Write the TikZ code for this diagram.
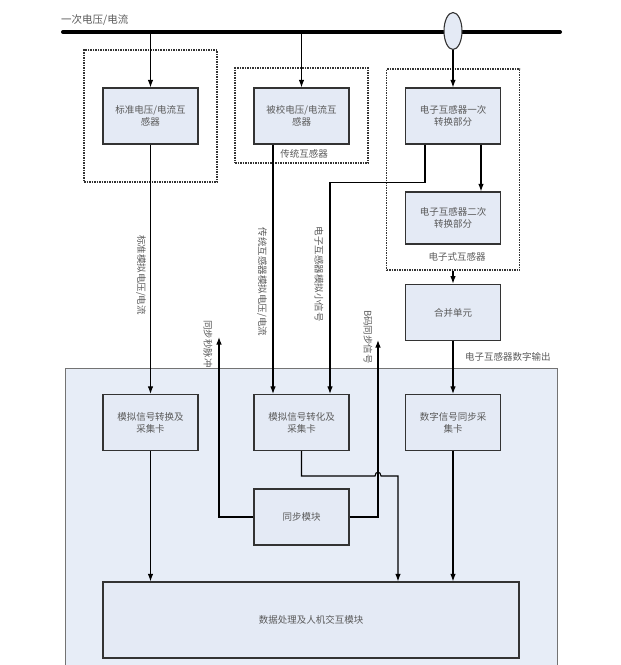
\documentclass[tikz,border=0pt]{standalone}
\usepackage{fontspec}
\newfontfamily\cjk{Noto Sans CJK SC}
\usetikzlibrary{arrows.meta,shapes.geometric}
\definecolor{boxfill}{HTML}{E4EAF5}
\definecolor{panelfill}{HTML}{E7EDF7}
\definecolor{txtgray}{HTML}{5A5A5A}
\begin{document}
\begin{tikzpicture}[x=1pt,y=-1pt,
  box/.style={draw=black!80, line width=1.2pt, fill=boxfill, minimum width=95pt, minimum height=56pt, inner sep=0pt, align=center, font=\cjk\fontsize{9.5}{12}\selectfont, text=txtgray},
  grp/.style={draw=black!80, line width=1.1pt, dash pattern=on 1.5pt off 1pt, minimum width=133pt, inner sep=0pt},
  arr/.style={-{Latex[length=7.5pt,width=5.5pt]}, line width=1.1pt, black},
  lab/.style={font=\cjk\fontsize{9.5}{12}\selectfont, text=txtgray, inner sep=0pt},
  vlab/.style={lab, rotate=-90}]
\useasboundingbox (0,0) rectangle (621,665);
% panel
\node[draw=black!55, line width=0.9pt, fill=panelfill, anchor=north west, minimum width=492pt, minimum height=310pt, inner sep=0pt] (panel) at (65,368) {};
% bus
\coordinate (busL) at (63,32);
\coordinate (busR) at (560,32);
\draw[line width=4pt, line cap=round] (busL) -- (busR);
\node[lab, anchor=west, font=\cjk\fontsize{10.5}{12}\selectfont] (buslab) at (61,20.5) {一次电压/电流};
\node[ellipse, draw=black!80, fill=boxfill, line width=1.1pt, minimum width=18pt, minimum height=37pt, inner sep=0pt] (ct) at (453,31) {};
% groups
\node[grp, minimum height=132pt] (g1) at (150.5,116) {};
\node[grp, minimum height=95pt] (g2) at (301.5,115.5) {};
\node[grp, minimum height=201pt] (g3) at (453,169.5) {};
% upper boxes
\node[box] (std) at (150.5,116) {标准电压/电流互\\感器};
\node[box] (dut) at (301.5,116) {被校电压/电流互\\感器};
\node[box] (e1) at (453,116) {电子互感器一次\\转换部分};
\node[box, minimum height=52pt] (e2) at (453,218) {电子互感器二次\\转换部分};
\node[box, minimum height=56.5pt] (mu) at (453,312.5) {合并单元};
\node[lab] (g2lab) at (304,154) {传统互感器};
\node[lab] (g3lab) at (457,256.5) {电子式互感器};
\node[lab, anchor=west] (dlab) at (465,357) {电子互感器数字输出};
% lower boxes
\node[box] (A) at (150.5,422.5) {模拟信号转换及\\采集卡};
\node[box] (B) at (301.5,422.5) {模拟信号转化及\\采集卡};
\node[box] (C) at (453,422.5) {数字信号同步采\\集卡};
\node[box] (S) at (301.5,517) {同步模块};
\node[box, minimum width=416pt, minimum height=76pt] (D) at (311,620) {数据处理及人机交互模块};
% connectors from bus
\draw[arr] (std.north |- busL) -- (std.north);
\draw[arr] (dut.north |- busL) -- (dut.north);
\draw[arr] (ct.south) -- (e1.north);
\draw[arr] ([xshift=28pt]e1.south) -- ([xshift=28pt]e2.north);
\draw[arr] (g3.south) -- (mu.north);
% down into panel
\draw[arr] (std.south) -- (A.north);
\draw[arr] ([xshift=-28.5pt]dut.south) -- ([xshift=-28.5pt]B.north);
\draw[arr] ([xshift=-28pt]e1.south) -- ++(0,38) -| ([xshift=28.5pt]B.north);
\draw[arr] (mu.south) -- (C.north);
\node[vlab] (l1) at (141,275) {标准模拟电压/电流};
\node[vlab] (l2) at (262,282) {传统互感器模拟电压/电流};
\node[vlab] (l3) at (319,274) {电子互感器模拟小信号};
% sync
\coordinate (ppsTip) at (219,337);
\coordinate (bTip) at (378,340);
\draw[arr] (S.west) -| (ppsTip);
\draw[arr] (S.east) -| (bTip);
\node[vlab] (l4) at (208,344) {同步秒脉冲};
\node[vlab] (l5) at (368,337) {B码同步信号};
% to data box
\coordinate (hop1) at (375,476);
\coordinate (hop2) at (381,476);
\coordinate (bend) at (398,476);
\draw[arr] (B.south) -- (B.south |- hop1) -- (hop1) .. controls (375,471) and (381,471) .. (hop2) -- (bend) -- (bend |- D.north);
\draw[arr] (A.south) -- (A.south |- D.north);
\draw[arr] (C.south) -- (C.south |- D.north);
\end{tikzpicture}
\end{document}
